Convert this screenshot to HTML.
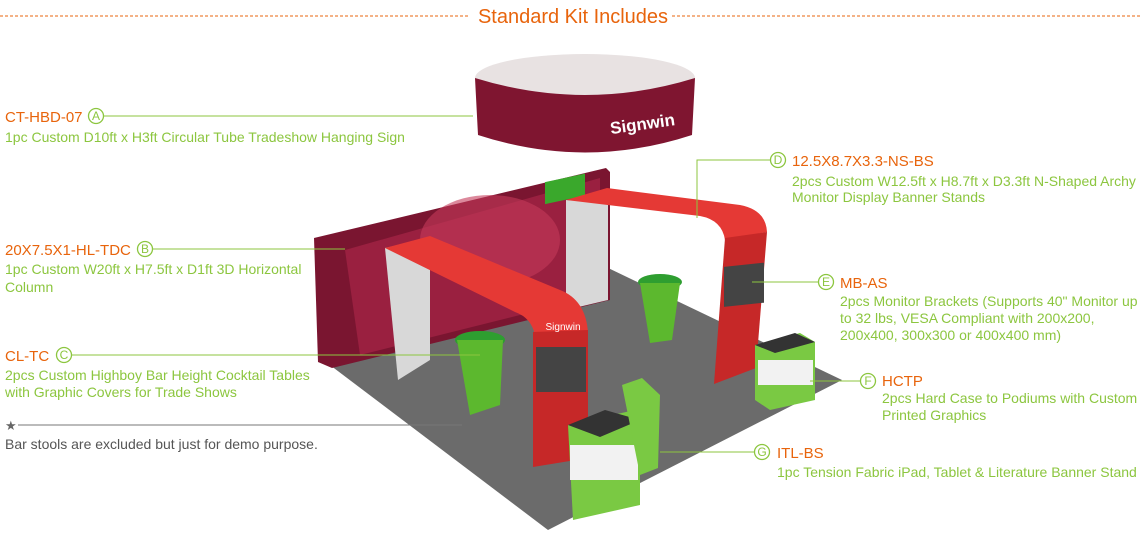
<!DOCTYPE html>
<html><head><meta charset="utf-8"><style>
body{margin:0;background:#fff;width:1140px;height:550px;overflow:hidden;font-family:"Liberation Sans",sans-serif}
svg{display:block}
.o{fill:#e8640c;font-size:15px}
.g{fill:#8cc63f;font-size:14px}
.c{fill:none;stroke:#8cc63f;stroke-width:1.3}
.cl{fill:#8cc63f;font-size:12px;text-anchor:middle}
</style></head><body>
<svg width="1140" height="550" viewBox="0 0 1140 550">
<line x1="0" y1="16" x2="468" y2="16" stroke="#e8640c" stroke-dasharray="3,2" stroke-width="1"/>
<line x1="672" y1="16" x2="1140" y2="16" stroke="#e8640c" stroke-dasharray="3,2" stroke-width="1"/>
<text x="573" y="23" text-anchor="middle" fill="#e8640c" font-size="20">Standard Kit Includes</text>

<polygon points="318,356 548,530 842,380 604,266" fill="#6b6b6b"/>
<polygon points="314,238 606,168 610,172 610,300 332,368 318,362" fill="#7a1530"/>
<polygon points="345,250 600,178 600,295 360,355" fill="#9a2040"/>
<ellipse cx="490" cy="240" rx="70" ry="45" fill="#c43a5a" opacity=".6"/>
<rect x="545" y="180" width="40" height="22" fill="#3aa82c" transform="skewY(-12) translate(0,118)"/>
<polygon points="566,200 608,202 608,300 566,310" fill="#d8d8d8"/>
<path d="M566,200 L607,188 L740,205 Q766,210 767,232 L725,240 Q722,220 700,216 Z" fill="#e53935"/>
<polygon points="725,238 767,232 756,368 714,384" fill="#c62828"/>
<rect x="724" y="267" width="40" height="40" fill="#444" transform="skewY(-6) translate(0,76)"/>
<ellipse cx="660" cy="282" rx="22" ry="8" fill="#2e9e30"/>
<polygon points="640,283 680,283 672,340 650,343" fill="#5cb82e"/>
<polygon points="385,248 430,238 430,360 398,380" fill="#d8d8d8"/>
<path d="M385,248 L430,236 L560,290 Q586,300 588,333 L535,336 Q532,318 515,312 Z" fill="#e53935"/>
<polygon points="533,332 588,330 588,458 533,467" fill="#c62828"/>
<rect x="536" y="347" width="50" height="45" fill="#444"/>
<text x="563" y="330" fill="#fff" font-size="10" text-anchor="middle">Signwin</text>
<ellipse cx="480" cy="340" rx="25" ry="9" fill="#2e9e30"/>
<polygon points="457,340 503,340 500,405 470,415" fill="#5cb82e"/>
<polygon points="568,425 635,410 640,455 640,505 573,520" fill="#7ac943"/>
<polygon points="568,425 605,410 640,420 600,437" fill="#333"/>
<rect x="570" y="445" width="68" height="35" fill="#f2f2f2"/>
<polygon points="755,345 800,333 815,342 815,400 770,410 755,400" fill="#7ac943"/>
<polygon points="755,345 795,333 815,342 775,353" fill="#333"/>
<rect x="758" y="360" width="55" height="25" fill="#f2f2f2"/>
<polygon points="622,385 642,378 660,395 658,468 640,475" fill="#7ac943"/>
<ellipse cx="585" cy="78" rx="110" ry="24" fill="#e8e2e2"/>
<path d="M475,78 L478,135 Q585,170 692,135 L695,78 Q585,112 475,78 Z" fill="#7f1530"/>
<text x="610" y="130" fill="#fff" font-size="17" font-weight="bold" transform="rotate(-8 640 125)">Signwin</text>

<text x="5" y="122" class="o">CT-HBD-07</text>
<circle cx="96" cy="116" r="7.5" class="c"/><text x="96" y="120" class="cl">A</text>
<line x1="104" y1="116" x2="473" y2="116" stroke="#8cc63f"/>
<text x="5" y="142" class="g">1pc Custom D10ft x H3ft Circular Tube Tradeshow Hanging Sign</text>

<text x="792" y="166" class="o">12.5X8.7X3.3-NS-BS</text>
<circle cx="778" cy="160" r="7.5" class="c"/><text x="778" y="164" class="cl">D</text>
<polyline points="770,160 697,160 697,218" fill="none" stroke="#8cc63f"/>
<text x="792" y="186" class="g">2pcs Custom W12.5ft x H8.7ft x D3.3ft N-Shaped Archy</text>
<text x="792" y="202" class="g">Monitor Display Banner Stands</text>

<text x="5" y="255" class="o">20X7.5X1-HL-TDC</text>
<circle cx="145" cy="249" r="7.5" class="c"/><text x="145" y="253" class="cl">B</text>
<line x1="153" y1="249" x2="345" y2="249" stroke="#8cc63f"/>
<text x="5" y="274" class="g">1pc Custom W20ft x H7.5ft x D1ft 3D Horizontal</text>
<text x="5" y="292" class="g">Column</text>

<text x="840" y="288" class="o">MB-AS</text>
<circle cx="826" cy="282" r="7.5" class="c"/><text x="826" y="286" class="cl">E</text>
<line x1="752" y1="282" x2="818" y2="282" stroke="#8cc63f"/>
<text x="840" y="306" class="g">2pcs Monitor Brackets (Supports 40" Monitor up</text>
<text x="840" y="323" class="g">to 32 lbs, VESA Compliant with 200x200,</text>
<text x="840" y="340" class="g">200x400, 300x300 or 400x400 mm)</text>

<text x="5" y="361" class="o">CL-TC</text>
<circle cx="64" cy="355" r="7.5" class="c"/><text x="64" y="359" class="cl">C</text>
<line x1="72" y1="355" x2="480" y2="355" stroke="#8cc63f"/>
<text x="5" y="380" class="g">2pcs Custom Highboy Bar Height Cocktail Tables</text>
<text x="5" y="397" class="g">with Graphic Covers for Trade Shows</text>

<text x="5" y="430" fill="#666" font-size="13">★</text>
<line x1="18" y1="425" x2="462" y2="425" stroke="#777"/>
<text x="5" y="449" fill="#555" font-size="14">Bar stools are excluded but just for demo purpose.</text>

<text x="882" y="386" class="o">HCTP</text>
<circle cx="868" cy="381" r="7.5" class="c"/><text x="868" y="385" class="cl">F</text>
<line x1="810" y1="381" x2="860" y2="381" stroke="#8cc63f"/>
<text x="882" y="403" class="g">2pcs Hard Case to Podiums with Custom</text>
<text x="882" y="420" class="g">Printed Graphics</text>

<text x="777" y="458" class="o">ITL-BS</text>
<circle cx="762" cy="452" r="7.5" class="c"/><text x="762" y="456" class="cl">G</text>
<line x1="660" y1="452" x2="754" y2="452" stroke="#8cc63f"/>
<text x="777" y="477" class="g">1pc Tension Fabric iPad, Tablet &amp; Literature Banner Stand</text>
</svg>
</body></html>
